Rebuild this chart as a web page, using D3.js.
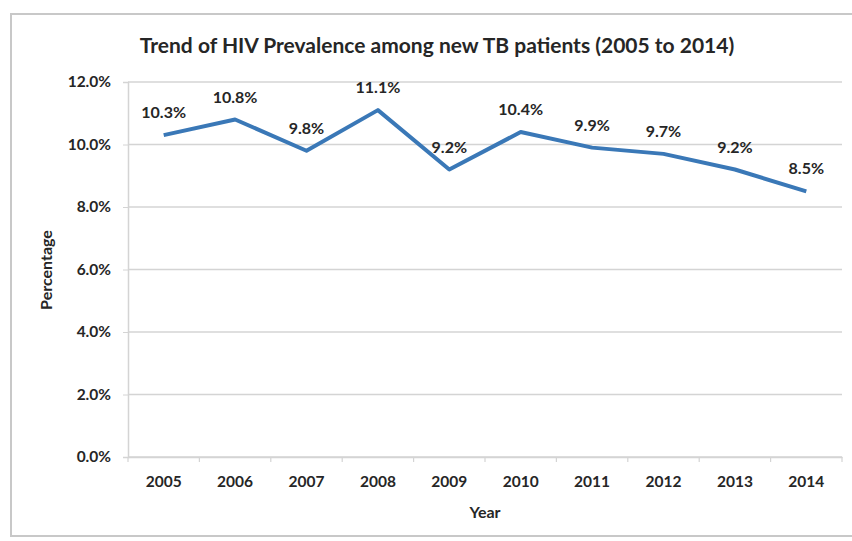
<!DOCTYPE html>
<html><head><meta charset="utf-8">
<script src="https://cdn.jsdelivr.net/npm/d3@7"></script>
<style>body{margin:0;background:#fff}svg{display:block}text{font-family:Lato,"Open Sans",sans-serif;font-weight:bold;fill:#262626}</style>
</head><body><svg id="c" width="852" height="541"></svg>
<script>
const years = ["2005","2006","2007","2008","2009","2010","2011","2012","2013","2014"];
const prevalence = [10.3,10.8,9.8,11.1,9.2,10.4,9.9,9.7,9.2,8.5];
const yTicks = [0,2,4,6,8,10,12];
const title = "Trend of HIV Prevalence among new TB patients (2005 to 2014)";

const svg = d3.select("#c");
const m = {l:128, r:842, t:82, b:457};
svg.append("rect").attr("x",11).attr("y",14).attr("width",860).attr("height",522)
  .attr("fill","#fff").attr("stroke","#c8c8c8").attr("stroke-width",2);

const x = d3.scaleBand().domain(years).range([m.l,m.r]);
const y = d3.scaleLinear().domain([0,12]).range([m.b,m.t]);

svg.append("g").selectAll("line").data(yTicks).join("line")
  .attr("x1",m.l).attr("x2",m.r).attr("y1",d=>y(d)).attr("y2",d=>y(d))
  .attr("stroke","#d4d4d4").attr("stroke-width",1.5);

const ya = svg.append("g").attr("transform",`translate(${m.l},0)`)
  .call(d3.axisLeft(y).tickValues(yTicks).tickFormat(d=>d.toFixed(1)+"%").tickSize(5).tickPadding(12));
ya.select(".domain").attr("stroke","#d4d4d4").attr("stroke-width",1.5);
ya.selectAll(".tick line").attr("stroke","#d4d4d4");
ya.selectAll("text").style("font-size","15.5px").style("font-family","Lato").attr("fill","#262626");

const xa = svg.append("g").attr("transform",`translate(0,${m.b})`)
  .call(d3.axisBottom(x).tickSize(0).tickPadding(19));
xa.select(".domain").attr("stroke","#d4d4d4").attr("stroke-width",1.5);
xa.selectAll("text").style("font-size","15.5px").style("font-family","Lato").attr("fill","#262626");
svg.append("g").selectAll("line").data(years.concat(["end"])).join("line")
  .attr("x1",(d,i)=>m.l+i*x.bandwidth()).attr("x2",(d,i)=>m.l+i*x.bandwidth())
  .attr("y1",m.b).attr("y2",m.b+5).attr("stroke","#d4d4d4").attr("stroke-width",1.2);

const cx = d=>x(d)+x.bandwidth()/2;
svg.append("path").datum(prevalence)
  .attr("d",d3.line().x((d,i)=>cx(years[i])).y(d=>y(d)))
  .attr("fill","none").attr("stroke","#3a78b7").attr("stroke-width",4).attr("stroke-linejoin","round");

svg.append("g").selectAll("text").data(prevalence).join("text")
  .attr("x",(d,i)=>cx(years[i])).attr("y",d=>y(d)-17)
  .attr("text-anchor","middle").style("font-size","16px").text(d=>d.toFixed(1)+"%");

svg.append("text").attr("x",437).attr("y",53).attr("text-anchor","middle")
  .style("font-size","21px").text(title);
svg.append("text").attr("x",485).attr("y",518).attr("text-anchor","middle")
  .style("font-size","16px").text("Year");
svg.append("text").attr("transform","translate(52,270) rotate(-90)").attr("text-anchor","middle")
  .style("font-size","16px").text("Percentage");
</script></body></html>
